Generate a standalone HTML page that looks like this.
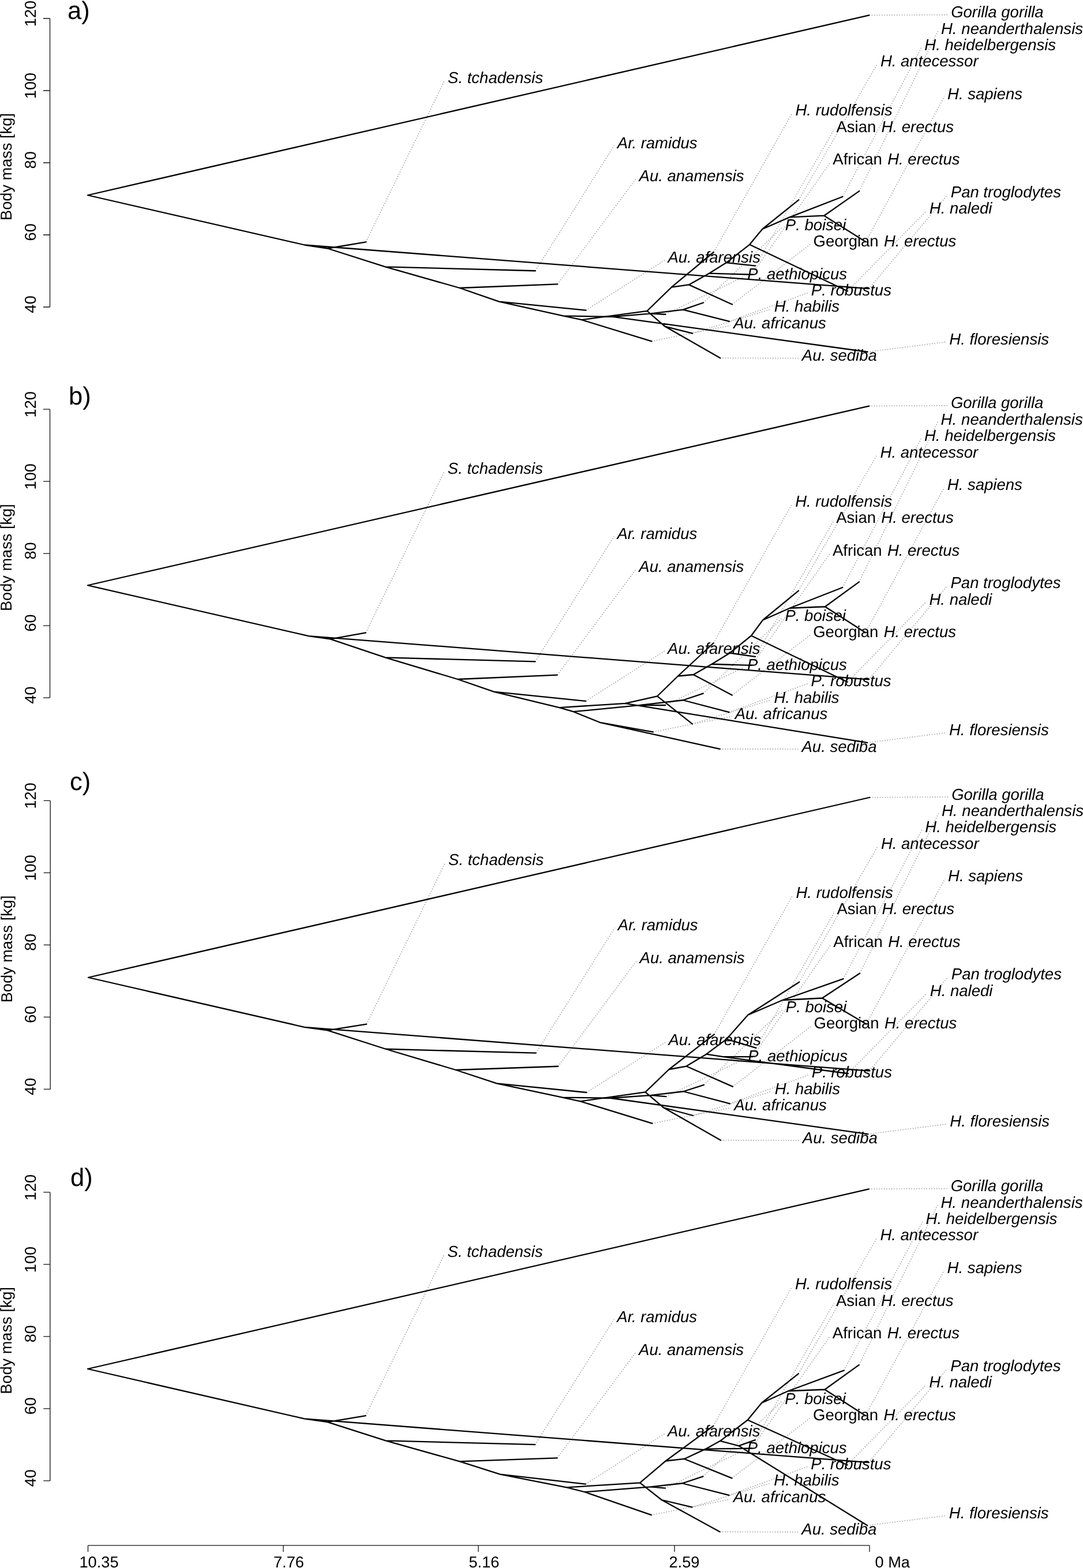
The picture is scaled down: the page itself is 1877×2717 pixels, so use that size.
<!DOCTYPE html>
<html lang="en"><head><meta charset="utf-8"><title>Body mass phenograms</title>
<style>html,body{margin:0;padding:0;background:#fff}body{width:1877px;height:2717px;overflow:hidden}svg{display:block}text{font-family:"Liberation Sans",sans-serif;fill:#000;font-kerning:none;text-rendering:geometricPrecision}.l{font-size:27.5px;font-style:italic}.r{font-style:normal}.ax{font-size:27.2px}.pl{font-size:43.5px}.t{fill:none;stroke:#000;stroke-width:2.3;stroke-linecap:round;stroke-linejoin:round}.d{fill:none;stroke:#a0a0a0;stroke-width:1.6;stroke-dasharray:1.6 2.73}.a{fill:none;stroke:#111;stroke-width:1.3}</style></head><body>
<svg width="1877" height="2717" viewBox="0 0 1877 2717">
<rect width="1877" height="2717" fill="#fff"/>
<g transform="translate(0 0)">
<path class="a" d="M86.5 32 V532M75 32H86.5M75 157H86.5M75 282H86.5M75 407H86.5M75 532H86.5"/>
<text class="ax" text-anchor="middle" transform="translate(61.5 23.5) rotate(-90)">120</text>
<text class="ax" text-anchor="middle" transform="translate(61.5 148.5) rotate(-90)">100</text>
<text class="ax" text-anchor="middle" transform="translate(61.5 277.25) rotate(-90)">80</text>
<text class="ax" text-anchor="middle" transform="translate(61.5 402.25) rotate(-90)">60</text>
<text class="ax" text-anchor="middle" transform="translate(61.5 527.25) rotate(-90)">40</text>
<text class="ax" text-anchor="middle" transform="translate(20 289) rotate(-90)">Body mass [kg]</text>
<text class="pl" x="117" y="32.5">a)</text>
<path class="d" d="M1506.33 26.35L1642.9 25.6M1489.2 331.13L1625.6 53.94M1460.47 340.8L1597 82.28M1384.24 346.39L1520.6 110.62M634.22 419.28L770.8 138.96M1500.37 419.01L1636.8 167.3M1236.85 437L1373.2 195.64M1309.31 460.68L1445.9 223.98M927.9 469.27L1064.5 252.32M1302.9 475.77L1439.5 280.66M966.2 492.34L1102.8 309M1505.9 500.22L1642.5 337.34M1469.01 504.53L1605.5 365.68M1218.96 524.51L1355.5 394.02M1269 527.45L1405.5 422.36M1015.51 537.59L1152.1 450.7M1153.4 544.74L1290 479.04M1263.93 556.88L1400.5 507.38M1199.93 577.63L1336.5 535.72M1129.35 591.28L1265.9 564.06M1503.41 609.75L1640 592.4M1248.05 620.35L1384.5 620.74"/>
<path class="t" d="M1506.33 26.35L152 338.25L528.2 424.5L1505.9 500.22M528.2 424.5L567.8 430.5L634.22 419.28M567.8 430.5L667.9 462.4L796.7 499L865 522.7L976.3 547.3L1008.2 554.2L1129.35 591.28M667.9 462.4L927.9 469.27M796.7 499L966.2 492.34M865 522.7L1015.51 537.59M976.3 547.3L1062 548.9L1503.41 609.75M1062 548.9L1127.5 543.4L1183.75 536.65L1218.96 524.51M1127.5 543.4L1153.4 544.74M1183.75 536.65L1263.93 556.88M1008.2 554.2L1121.6 538.8L1152.3 565.6L1248.05 620.35M1152.3 565.6L1199.93 577.63M1121.6 538.8L1163.8 497.7L1236.85 437M1163.8 497.7L1193.9 493.4L1229 473.7L1259 455.1L1299.1 423.8L1321.25 397L1368.5 376.4L1428.3 373.7L1489.2 331.13M1193.9 493.4L1269 527.45M1229 473.7L1302.9 475.77M1259 455.1L1309.31 460.68M1299.1 423.8L1469.01 504.53M1321.25 397L1384.24 346.39M1368.5 376.4L1460.47 340.8M1428.3 373.7L1500.37 419.01"/>
<text class="l" x="1648.2" y="30.3">Gorilla gorilla</text>
<text class="l" x="1630.9" y="58.64"><tspan letter-spacing="0.09">H. neanderthalensis</tspan></text>
<text class="l" x="1602.3" y="86.98">H. heidelbergensis</text>
<text class="l" x="1525.9" y="115.32">H. antecessor</text>
<text class="l" x="776.1" y="143.66">S. tchadensis</text>
<text class="l" x="1642.1" y="172">H. sapiens</text>
<text class="l" x="1378.5" y="200.34">H. rudolfensis</text>
<text class="l" x="1449.5" y="228.68"><tspan class="r">Asian</tspan><tspan dx="1.7"> H. erectus</tspan></text>
<text class="l" x="1069.8" y="257.02">Ar<tspan dx="-1.9">.</tspan> ramidus</text>
<text class="l" x="1443.3" y="285.36"><tspan class="r">African</tspan><tspan dx="1.7"> H. erectus</tspan></text>
<text class="l" x="1107.6" y="313.7">Au. anamensis</text>
<text class="l" x="1647.8" y="342.04">Pan troglodytes</text>
<text class="l" x="1610.8" y="370.38">H. naledi</text>
<text class="l" x="1360.8" y="398.72">P. boisei</text>
<text class="l" x="1409.5" y="427.06"><tspan class="r">Georgian</tspan><tspan dx="1.7"> H. erectus</tspan></text>
<text class="l" x="1157.4" y="455.4">Au. afarensis</text>
<text class="l" x="1295.3" y="483.74">P. aethiopicus</text>
<text class="l" x="1405.8" y="512.08">P. robustus</text>
<text class="l" x="1341.8" y="540.42">H. habilis</text>
<text class="l" x="1271.2" y="568.76">Au. africanus</text>
<text class="l" x="1645.3" y="597.1">H. floresiensis</text>
<text class="l" x="1389.8" y="625.44">Au. sediba</text>
</g>
<g transform="translate(0 677.2)">
<path class="a" d="M86.5 32 V532M75 32H86.5M75 157H86.5M75 282H86.5M75 407H86.5M75 532H86.5"/>
<text class="ax" text-anchor="middle" transform="translate(61.5 23.5) rotate(-90)">120</text>
<text class="ax" text-anchor="middle" transform="translate(61.5 148.5) rotate(-90)">100</text>
<text class="ax" text-anchor="middle" transform="translate(61.5 277.25) rotate(-90)">80</text>
<text class="ax" text-anchor="middle" transform="translate(61.5 402.25) rotate(-90)">60</text>
<text class="ax" text-anchor="middle" transform="translate(61.5 527.25) rotate(-90)">40</text>
<text class="ax" text-anchor="middle" transform="translate(20 289) rotate(-90)">Body mass [kg]</text>
<text class="pl" x="119" y="23.3">b)</text>
<path class="d" d="M1506.03 26.35L1642.6 25.6M1488.91 331.15L1625.3 53.94M1460.18 340.8L1596.7 82.28M1383.95 346.4L1520.3 110.62M633.92 419.29L770.5 138.96M1500.07 419.01L1636.5 167.3M1236.59 437.05L1372.9 195.64M1309.01 460.64L1445.6 223.98M927.6 469.27L1064.2 252.32M1302.6 475.76L1439.2 280.66M965.9 492.35L1102.5 309M1505.6 500.21L1642.2 337.34M1468.71 504.52L1605.2 365.68M1218.66 524.5L1355.2 394.02M1268.73 527.38L1405.2 422.36M1015.21 537.59L1151.8 450.7M1153.1 544.8L1289.7 479.04M1263.64 556.87L1400.2 507.38M1199.84 577.22L1336.2 535.72M1131.82 591.11L1268.4 564.06M1503.11 609.72L1639.7 592.4M1247.63 620.66L1384.2 620.74"/>
<path class="t" d="M1506.03 26.35L152 337.05L535.1 424.9L1505.6 500.21M535.1 424.9L572.5 430.2L633.92 419.29M572.5 430.2L667.9 462.2L793.3 499.8L856 521.5L969.4 548.9L993.8 556L1039.6 574.6L1247.63 620.66M1039.6 574.6L1131.82 591.11M667.9 462.2L927.6 469.27M793.3 499.8L965.9 492.35M856 521.5L1015.21 537.59M969.4 548.9L1083.4 541.6L1503.11 609.72M1083.4 541.6L1139.2 529.1L1199.84 577.22M993.8 556L1107.2 545L1183.75 536.05L1218.66 524.5M1107.2 545L1153.1 544.8M1183.75 536.05L1263.64 556.87M1139.2 529.1L1175 494.3L1236.59 437.05M1175 494.3L1201.75 491.8L1233.75 473.55L1265 454.3L1302 424.3L1322 397.3L1368.75 376.55L1430 374.05L1488.91 331.15M1201.75 491.8L1268.73 527.38M1233.75 473.55L1302.6 475.76M1265 454.3L1309.01 460.64M1302 424.3L1468.71 504.52M1322 397.3L1383.95 346.4M1368.75 376.55L1460.18 340.8M1430 374.05L1500.07 419.01"/>
<text class="l" x="1647.9" y="30.3">Gorilla gorilla</text>
<text class="l" x="1630.6" y="58.64"><tspan letter-spacing="0.09">H. neanderthalensis</tspan></text>
<text class="l" x="1602" y="86.98">H. heidelbergensis</text>
<text class="l" x="1525.6" y="115.32">H. antecessor</text>
<text class="l" x="775.8" y="143.66">S. tchadensis</text>
<text class="l" x="1641.8" y="172">H. sapiens</text>
<text class="l" x="1378.2" y="200.34">H. rudolfensis</text>
<text class="l" x="1449.2" y="228.68"><tspan class="r">Asian</tspan><tspan dx="1.7"> H. erectus</tspan></text>
<text class="l" x="1069.5" y="257.02">Ar<tspan dx="-1.9">.</tspan> ramidus</text>
<text class="l" x="1443" y="285.36"><tspan class="r">African</tspan><tspan dx="1.7"> H. erectus</tspan></text>
<text class="l" x="1107.3" y="313.7">Au. anamensis</text>
<text class="l" x="1647.5" y="342.04">Pan troglodytes</text>
<text class="l" x="1610.5" y="370.38">H. naledi</text>
<text class="l" x="1360.5" y="398.72">P. boisei</text>
<text class="l" x="1409.2" y="427.06"><tspan class="r">Georgian</tspan><tspan dx="1.7"> H. erectus</tspan></text>
<text class="l" x="1157.1" y="455.4">Au. afarensis</text>
<text class="l" x="1295" y="483.74">P. aethiopicus</text>
<text class="l" x="1405.5" y="512.08">P. robustus</text>
<text class="l" x="1341.5" y="540.42">H. habilis</text>
<text class="l" x="1273.7" y="568.76">Au. africanus</text>
<text class="l" x="1645" y="597.1">H. floresiensis</text>
<text class="l" x="1389.5" y="625.44">Au. sediba</text>
</g>
<g transform="translate(0 1355.4)">
<path class="a" d="M87.2 32 V532M75.7 32H87.2M75.7 157H87.2M75.7 282H87.2M75.7 407H87.2M75.7 532H87.2"/>
<text class="ax" text-anchor="middle" transform="translate(62.2 23.5) rotate(-90)">120</text>
<text class="ax" text-anchor="middle" transform="translate(62.2 148.5) rotate(-90)">100</text>
<text class="ax" text-anchor="middle" transform="translate(62.2 277.25) rotate(-90)">80</text>
<text class="ax" text-anchor="middle" transform="translate(62.2 402.25) rotate(-90)">60</text>
<text class="ax" text-anchor="middle" transform="translate(62.2 527.25) rotate(-90)">40</text>
<text class="ax" text-anchor="middle" transform="translate(20.7 289) rotate(-90)">Body mass [kg]</text>
<text class="pl" x="121" y="13.55">c)</text>
<path class="d" d="M1507.33 26.35L1643.9 25.6M1490.18 331.11L1626.6 53.94M1461.46 340.76L1598 82.28M1385.17 346.29L1521.6 110.62M635.21 419.27L771.8 138.96M1501.35 419.04L1637.8 167.3M1237.83 436.97L1374.2 195.64M1310.35 460.48L1446.9 223.98M928.9 469.27L1065.5 252.32M1303.9 475.8L1440.5 280.66M967.2 492.34L1103.8 309M1506.9 500.22L1643.5 337.34M1469.91 504.85L1606.5 365.68M1219.95 524.49L1356.5 394.02M1269.99 527.46L1406.5 422.36M1016.51 537.59L1153.1 450.7M1154.4 544.71L1291 479.04M1264.94 556.87L1401.5 507.38M1200.94 577.61L1337.5 535.72M1130.35 591.28L1266.9 564.06M1504.41 609.75L1641 592.4M1249.04 620.35L1385.5 620.74"/>
<path class="t" d="M1507.33 26.35L153 338.35L527.6 424.45L1506.9 500.22M527.6 424.45L567.7 429.95L635.21 419.27M567.7 429.95L668.5 462.35L790 498.6L861 521.95L975 546.15L1005.7 552.95L1130.35 591.28M668.5 462.35L928.9 469.27M790 498.6L967.2 492.34M861 521.95L1016.51 537.59M975 546.15L1058 547.35L1504.41 609.75M1058 547.35L1128.5 542.55L1184.5 535.85L1219.95 524.49M1128.5 542.55L1154.4 544.71M1184.5 535.85L1264.94 556.87M1005.7 552.95L1118.5 537.05L1150 563.85L1249.04 620.35M1150 563.85L1200.94 577.61M1118.5 537.05L1159.5 497.6L1237.83 436.97M1159.5 497.6L1189.5 492.15L1224.1 471.25L1259.2 445.15L1296.25 403.35L1356.25 377.6L1425 374.1L1490.18 331.11M1189.5 492.15L1269.99 527.46M1224.1 471.25L1253.2 475.75L1469.91 504.85M1253.2 475.75L1303.9 475.8M1259.2 445.15L1310.35 460.48M1296.25 403.35L1385.17 346.29M1356.25 377.6L1461.46 340.76M1425 374.1L1501.35 419.04"/>
<text class="l" x="1649.2" y="30.3">Gorilla gorilla</text>
<text class="l" x="1631.9" y="58.64"><tspan letter-spacing="0.09">H. neanderthalensis</tspan></text>
<text class="l" x="1603.3" y="86.98">H. heidelbergensis</text>
<text class="l" x="1526.9" y="115.32">H. antecessor</text>
<text class="l" x="777.1" y="143.66">S. tchadensis</text>
<text class="l" x="1643.1" y="172">H. sapiens</text>
<text class="l" x="1379.5" y="200.34">H. rudolfensis</text>
<text class="l" x="1450.5" y="228.68"><tspan class="r">Asian</tspan><tspan dx="1.7"> H. erectus</tspan></text>
<text class="l" x="1070.8" y="257.02">Ar<tspan dx="-1.9">.</tspan> ramidus</text>
<text class="l" x="1444.3" y="285.36"><tspan class="r">African</tspan><tspan dx="1.7"> H. erectus</tspan></text>
<text class="l" x="1108.6" y="313.7">Au. anamensis</text>
<text class="l" x="1648.8" y="342.04">Pan troglodytes</text>
<text class="l" x="1611.8" y="370.38">H. naledi</text>
<text class="l" x="1361.8" y="398.72">P. boisei</text>
<text class="l" x="1410.5" y="427.06"><tspan class="r">Georgian</tspan><tspan dx="1.7"> H. erectus</tspan></text>
<text class="l" x="1158.4" y="455.4">Au. afarensis</text>
<text class="l" x="1296.3" y="483.74">P. aethiopicus</text>
<text class="l" x="1406.8" y="512.08">P. robustus</text>
<text class="l" x="1342.8" y="540.42">H. habilis</text>
<text class="l" x="1272.2" y="568.76">Au. africanus</text>
<text class="l" x="1646.3" y="597.1">H. floresiensis</text>
<text class="l" x="1390.8" y="625.44">Au. sediba</text>
</g>
<g transform="translate(0 2033.95)">
<path class="a" d="M86.8 32 V532M75.3 32H86.8M75.3 157H86.8M75.3 282H86.8M75.3 407H86.8M75.3 532H86.8"/>
<text class="ax" text-anchor="middle" transform="translate(61.8 23.5) rotate(-90)">120</text>
<text class="ax" text-anchor="middle" transform="translate(61.8 148.5) rotate(-90)">100</text>
<text class="ax" text-anchor="middle" transform="translate(61.8 277.25) rotate(-90)">80</text>
<text class="ax" text-anchor="middle" transform="translate(61.8 402.25) rotate(-90)">60</text>
<text class="ax" text-anchor="middle" transform="translate(61.8 527.25) rotate(-90)">40</text>
<text class="ax" text-anchor="middle" transform="translate(20.3 289) rotate(-90)">Body mass [kg]</text>
<text class="pl" x="122" y="20.55">d)</text>
<path class="d" d="M1505.83 26.35L1642.4 25.6M1488.71 331.14L1625.1 53.94M1462.72 340.68L1599.25 82.28M1383.74 346.38L1520.1 110.62M633.71 419.28L770.3 138.96M1499.87 419.01L1636.3 167.3M1236.31 436.95L1372.7 195.64M1308.86 461.17L1445.4 223.98M927.4 469.27L1064 252.32M1302.4 475.81L1439 280.66M965.7 492.34L1102.3 309M1505.4 500.22L1642 337.34M1468.5 504.55L1605 365.68M1218.45 524.49L1355 394.02M1268.48 527.49L1405 422.36M1015.01 537.58L1151.6 450.7M1152.9 544.7L1289.5 479.04M1263.43 556.88L1400 507.38M1199.43 577.64L1336 535.72M1128.86 591.24L1265.4 564.06M1503.06 609.32L1639.5 592.4M1247.54 620.37L1384 620.74"/>
<path class="t" d="M1505.83 26.35L152 338.05L527.6 424.5L1505.4 500.22M527.6 424.5L567.7 430.2L633.71 419.28M567.7 430.2L668.5 462.5L796.7 498.4L866.7 520.7L981.9 543.4L1013.3 551.3L1128.86 591.24M668.5 462.5L927.4 469.27M796.7 498.4L965.7 492.34M866.7 520.7L1015.01 537.58M1013.3 551.3L1127.9 542.4L1182.5 536.3L1218.45 524.49M1127.9 542.4L1152.9 544.7M1182.5 536.3L1263.43 556.88M981.9 543.4L1109.1 535.4L1146.7 565.05L1247.54 620.37M1146.7 565.05L1199.43 577.64M1109.1 535.4L1153.75 497.55L1236.31 436.95M1153.75 497.55L1186 494L1223.1 476.7L1248.2 462.9L1295.8 426.55L1320 397.05L1366.25 376.3L1429.5 373.8L1488.71 331.14M1186 494L1268.48 527.49M1223.1 476.7L1302.4 475.81M1248.2 462.9L1280.25 471.4L1503.06 609.32M1280.25 471.4L1308.86 461.17M1295.8 426.55L1468.5 504.55M1320 397.05L1383.74 346.38M1366.25 376.3L1462.72 340.68M1429.5 373.8L1499.87 419.01"/>
<text class="l" x="1647.7" y="30.3">Gorilla gorilla</text>
<text class="l" x="1630.4" y="58.64"><tspan letter-spacing="0.09">H. neanderthalensis</tspan></text>
<text class="l" x="1604.55" y="86.98">H. heidelbergensis</text>
<text class="l" x="1525.4" y="115.32">H. antecessor</text>
<text class="l" x="775.6" y="143.66">S. tchadensis</text>
<text class="l" x="1641.6" y="172">H. sapiens</text>
<text class="l" x="1378" y="200.34">H. rudolfensis</text>
<text class="l" x="1449" y="228.68"><tspan class="r">Asian</tspan><tspan dx="1.7"> H. erectus</tspan></text>
<text class="l" x="1069.3" y="257.02">Ar<tspan dx="-1.9">.</tspan> ramidus</text>
<text class="l" x="1442.8" y="285.36"><tspan class="r">African</tspan><tspan dx="1.7"> H. erectus</tspan></text>
<text class="l" x="1107.1" y="313.7">Au. anamensis</text>
<text class="l" x="1647.3" y="342.04">Pan troglodytes</text>
<text class="l" x="1610.3" y="370.38">H. naledi</text>
<text class="l" x="1360.3" y="398.72">P. boisei</text>
<text class="l" x="1409" y="427.06"><tspan class="r">Georgian</tspan><tspan dx="1.7"> H. erectus</tspan></text>
<text class="l" x="1156.9" y="455.4">Au. afarensis</text>
<text class="l" x="1294.8" y="483.74">P. aethiopicus</text>
<text class="l" x="1405.3" y="512.08">P. robustus</text>
<text class="l" x="1341.3" y="540.42">H. habilis</text>
<text class="l" x="1270.7" y="568.76">Au. africanus</text>
<text class="l" x="1644.8" y="597.1">H. floresiensis</text>
<text class="l" x="1389.3" y="625.44">Au. sediba</text>
</g>
<path class="a" d="M152.5 2677.9H1507M152.5 2677.9V2688.9M491 2677.9V2688.9M829 2677.9V2688.9M1169 2677.9V2688.9M1507 2677.9V2688.9"/>
<text class="ax" x="137.5" y="2716.3">10.35</text>
<text class="ax" x="474" y="2716.3">7.76</text>
<text class="ax" x="812.5" y="2716.3">5.16</text>
<text class="ax" x="1159.5" y="2716.3">2.59</text>
<text class="ax" x="1516.5" y="2716.3">0 Ma</text>
</svg></body></html>
